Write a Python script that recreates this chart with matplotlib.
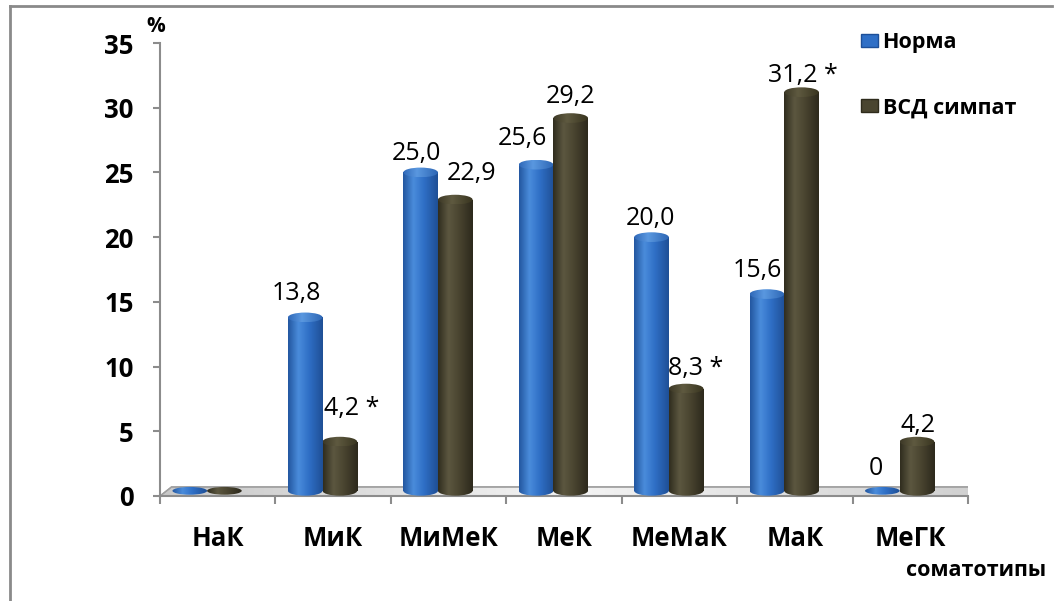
import matplotlib.pyplot as plt
import numpy as np
from matplotlib.colors import LinearSegmentedColormap
from matplotlib.lines import Line2D
from matplotlib.patches import Ellipse, Patch, Polygon

plt.rcParams["font.family"] = ["Open Sans", "DejaVu Sans"]

categories = ["НаК", "МиК", "МиМеК", "МеК", "МеМаК", "МаК", "МеГК"]
norma = [0.0, 13.8, 25.0, 25.6, 20.0, 15.6, 0.0]
vsd = [0.0, 4.2, 22.9, 29.2, 8.3, 31.2, 4.2]
norma_labels = ["", "13,8", "25,0", "25,6", "20,0", "15,6", "0"]
vsd_labels = ["", "4,2 *", "22,9", "29,2", "8,3 *", "31,2 *", "4,2"]
series_names = ["Норма", "ВСД симпат"]
y_ticks = [0, 5, 10, 15, 20, 25, 30, 35]

# label nudges in pixels (dx, gap above bar top)
norma_nudge = [(0, 0), (-9, 17), (-4, 12), (-14, 20), (-1, 12), (-10, 17), (-6, 21)]
vsd_nudge = [(0, 0), (12, 27), (16, 20), (0, 15), (10, 14), (1, 10), (1, 10)]

BLUE = LinearSegmentedColormap.from_list(
    "blue", [(0, "#22569f"), (0.3, "#4a8cdb"), (0.6, "#2f6fc6"), (1, "#1f4f95")])
BLUE_TOP = LinearSegmentedColormap.from_list(
    "blue_top", [(0, "#2f68b8"), (0.4, "#5a98e0"), (1, "#2d66b4")])
OLIVE = LinearSegmentedColormap.from_list(
    "olive", [(0, "#2f2c1e"), (0.3, "#5c5740"), (0.6, "#4a4530"), (1, "#2c291c")])
OLIVE_TOP = LinearSegmentedColormap.from_list(
    "olive_top", [(0, "#3c3826"), (0.4, "#5f5a40"), (1, "#38341f")])
FLOOR = LinearSegmentedColormap.from_list("floor", ["#c8c8c8", "#f4f4f4", "#d0d0d0"])

BASE = 0.4
CAP_H = 0.75
GRAD = np.linspace(0, 1, 256).reshape(1, -1)


def gradient_in(ax, patch, cmap, extent, zorder):
    ax.add_patch(patch)
    im = ax.imshow(GRAD, extent=extent, cmap=cmap, aspect="auto",
                   interpolation="bicubic", zorder=zorder)
    im.set_clip_path(patch)


def draw_cylinders(ax, xs, values, width, body_cmap, top_cmap, zorder):
    heights = np.maximum(np.array(values) - BASE, 0)
    bars = ax.bar(xs, heights, width, bottom=BASE, color="none", linewidth=0, zorder=zorder)
    for rect, value in zip(bars, values):
        x0 = rect.get_x()
        w = rect.get_width()
        cx = x0 + w / 2
        top = max(value, BASE)
        if value > BASE:
            gradient_in(ax, rect, body_cmap, (x0, x0 + w, BASE, top), zorder)
            bottom = Ellipse((cx, BASE), w, CAP_H, facecolor="none", linewidth=0)
            gradient_in(ax, bottom, body_cmap,
                        (x0, x0 + w, BASE - CAP_H / 2, BASE + CAP_H / 2), zorder)
            cap = Ellipse((cx, top), w, CAP_H, facecolor="none", linewidth=0)
            gradient_in(ax, cap, top_cmap, (x0, x0 + w, top - CAP_H / 2, top + CAP_H / 2), zorder + 0.1)
        else:
            cap = Ellipse((cx, top), w, CAP_H * 0.8, facecolor="none", linewidth=0)
            gradient_in(ax, cap, body_cmap, (x0, x0 + w, top - CAP_H / 2, top + CAP_H / 2), zorder)


def add_labels(ax, xs, values, labels, nudges):
    for x, v, text, (dx, gap) in zip(xs, values, labels, nudges):
        if not text:
            continue
        ax.annotate(text, (x, v), xytext=(dx, gap), textcoords="offset pixels",
                    ha="center", va="baseline", fontsize=18, annotation_clip=False)


fig = plt.figure(figsize=(10.58, 6.01), dpi=100)
ax = fig.add_axes([160 / 1058, 105 / 601, 808 / 1058, 453 / 601])

x = np.arange(len(categories))
width = 0.30

# floor of the 3d plot
floor = Polygon([(-0.5, 0), (6.5, 0), (6.6, 0.7), (-0.4, 0.7)], closed=True,
                facecolor="none", edgecolor="#a0a0a0", linewidth=1, zorder=1.1)
gradient_in(ax, floor, FLOOR, (-0.5, 6.6, 0, 0.7), 1)
floor_edge = Polygon([(-0.5, 0), (6.5, 0), (6.6, 0.7), (-0.4, 0.7)], closed=True,
                     facecolor="none", edgecolor="#a0a0a0", linewidth=1, zorder=1.2)
ax.add_patch(floor_edge)

draw_cylinders(ax, x - 0.242, norma, width, BLUE, BLUE_TOP, 3)
draw_cylinders(ax, x + 0.058, vsd, width, OLIVE, OLIVE_TOP, 4)
add_labels(ax, x - 0.242, norma, norma_labels, norma_nudge)
add_labels(ax, x + 0.058, vsd, vsd_labels, vsd_nudge)

ax.set_xlim(-0.5, 6.5)
ax.set_ylim(0, 35)

for side in ["top", "right"]:
    ax.spines[side].set_visible(False)
for side in ["left", "bottom"]:
    ax.spines[side].set_color("#8c8c8c")
    ax.spines[side].set_linewidth(1.5)

ax.set_yticks(y_ticks)
ax.set_yticklabels([str(t) for t in y_ticks], fontsize=18.5, fontweight="bold")
ax.tick_params(axis="y", length=5, width=1.5, color="#8c8c8c", pad=14)

ax.set_xticks(np.arange(-0.5, 7, 1))
ax.set_xticklabels([])
ax.set_xticks(x, minor=True)
ax.set_xticklabels(categories, minor=True, fontsize=18.5, fontweight="bold")
ax.tick_params(axis="x", which="major", length=6, width=1.5, color="#8c8c8c")
ax.tick_params(axis="x", which="minor", length=0, pad=21)

handles = [Patch(facecolor="#2f6fc6", edgecolor="#1d4f98"),
           Patch(facecolor="#4a4530", edgecolor="#2e2b1c")]
ax.legend(handles, series_names, loc="upper left", bbox_to_anchor=(861 / 1058, 1 - 32 / 601),
          bbox_transform=fig.transFigure, frameon=False, borderpad=0, borderaxespad=0,
          prop={"size": 15.5, "weight": "bold"}, handlelength=0.8, handleheight=0.55,
          handletextpad=0.2, labelspacing=2.05)

fig.text(156 / 1058, 1 - 27 / 601, "%", ha="center", va="center", fontsize=15, fontweight="bold")
fig.text(976 / 1058, 1 - 571 / 601, "соматотипы", ha="center", va="center",
         fontsize=15.5, fontweight="bold")

# outer frame (left and top edges only)
fig.add_artist(Line2D([10 / 1058, 10 / 1058], [0, 1 - 6 / 601], transform=fig.transFigure,
                      color="#8a8a8a", linewidth=2))
fig.add_artist(Line2D([10 / 1058, 1052 / 1058], [1 - 6 / 601, 1 - 6 / 601],
                      transform=fig.transFigure, color="#8a8a8a", linewidth=2))

fig.savefig("out.png", dpi=100)
